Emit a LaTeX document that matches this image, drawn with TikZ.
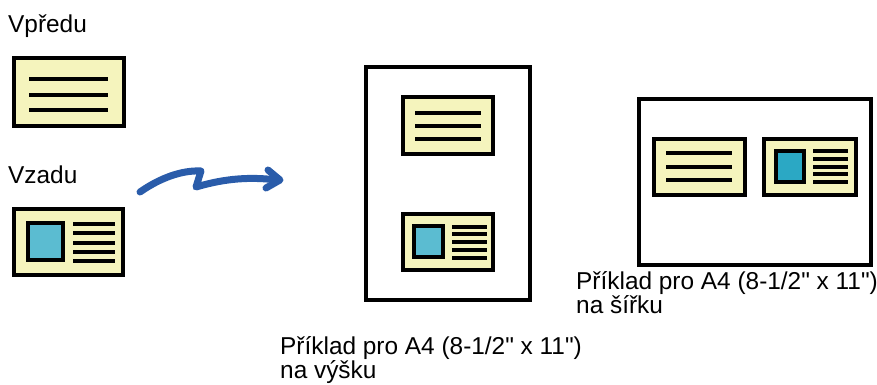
\documentclass[tikz,border=0pt]{standalone}
\usepackage{fontspec}
\setmainfont{Liberation Sans}[Ligatures=TeXOff]
\definecolor{cardyellow}{HTML}{F5F4BD}
\definecolor{photoblue}{HTML}{5BBCD1}
\definecolor{photoblueB}{HTML}{2BA8C4}
\definecolor{arrowblue}{HTML}{2A5CAA}
\begin{document}
\begin{tikzpicture}[x=1pt,y=-1pt,
  page/.style={draw=black,line width=4.5,fill=white},
  card/.style={draw=black,line width=4,fill=cardyellow},
  photo/.style={draw=black,line width=4,fill=photoblue},
  photoB/.style={draw=black,line width=4,fill=photoblueB},
  txtline/.style={draw=black,line width=4,line cap=butt},
  smline/.style={draw=black,line width=3.6,line cap=butt},
  lbl/.style={anchor=base west,inner sep=0,font=\fontsize{24.4}{24.4}\selectfont},
  flow/.style={draw=arrowblue,line width=7,line cap=round,line join=round}]
\useasboundingbox (0,0) rectangle (877,385);

% labels
\node[lbl] (front) at (8,33) {Vpředu};
\node[lbl] (back) at (8,183) {Vzadu};
\node[lbl] (portA) at (280,354) {Příklad pro A4 (8-1/2" x 11")};
\node[lbl] (portB) at (280,378) {na výšku};
\node[lbl] (landA) at (576,289) {Příklad pro A4 (8-1/2" x 11")};
\node[lbl] (landB) at (576,313) {na šířku};

% left front card
\path[card] (14,58) rectangle (124,126);
\draw[txtline] (29,79) -- (108,79);
\draw[txtline] (29,95) -- (108,95);
\draw[txtline] (29,110) -- (108,110);

% left back card
\path[card] (14,209) rectangle (123,275);
\path[photo] (28,223) rectangle (63,260);
\foreach \y in {224,233,243,252,261} \draw[txtline] (73,\y) -- (115,\y);

% arrow
\coordinate (a0) at (140,192);
\coordinate (a1) at (201,171);
\coordinate (a2) at (196,187);
\coordinate (a3) at (277,180);
\coordinate (w1) at (268,170);
\coordinate (tip) at (280,180);
\coordinate (w2) at (266,188);
\draw[flow] (a0) .. controls (160,178) and (182,170) .. (a1) -- (a2)
  .. controls (220,180) and (245,176) .. (a3);
\draw[flow] (w1) -- (tip) -- (w2);

% portrait page
\path[page] (366,67) rectangle (530,300);
\path[card] (403,97) rectangle (493,154);
\draw[txtline] (415,113) -- (481,113);
\draw[txtline] (415,126) -- (481,126);
\draw[txtline] (415,139) -- (481,139);
\path[card] (403,214) rectangle (493,270);
\path[photo] (414,226) rectangle (443,257);
\foreach \y in {227,234,242,250,258} \draw[smline] (452,\y) -- (487,\y);

% landscape page
\path[page] (639,99) rectangle (871,265);
\path[card] (654,139) rectangle (745,195);
\draw[txtline] (666,153) -- (732,153);
\draw[txtline] (666,167) -- (732,167);
\draw[txtline] (666,180) -- (732,180);
\path[card] (764,139) rectangle (856,195);
\path[photoB] (776,151) rectangle (804,182);
\foreach \y in {151,159,167,174,182} \draw[smline] (813,\y) -- (848,\y);
\end{tikzpicture}
\end{document}
